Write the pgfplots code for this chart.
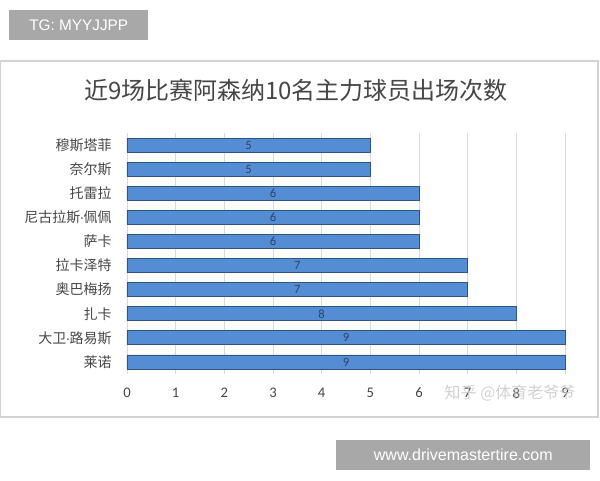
\documentclass[border=0pt]{standalone}
\usepackage{pgfplots}
\pgfplotsset{compat=1.18}
\usepackage{pgfplotstable}
\usepackage{fontspec}
\setmainfont{Noto Sans CJK SC}
\newfontfamily\numfont{Carlito}
\newfontfamily\wmfont{Liberation Sans}
\newcommand{\mdot}{{\wmfont\kern-0.5pt·\kern-0.5pt}}

\definecolor{barBlue}{RGB}{84,141,212}
\definecolor{barEdge}{RGB}{48,84,130}
\definecolor{labelInk}{RGB}{45,68,98}
\definecolor{textInk}{RGB}{70,70,70}
\definecolor{wmGrey}{RGB}{168,168,168}

\pgfplotstableread{
y v
0 9
1 9
2 8
3 7
4 7
5 6
6 6
7 6
8 5
9 5
}\appearances

\begin{document}
\begin{tikzpicture}
\path[fill=white, use as bounding box] (0,0) rectangle (450pt,360pt);

% pixel coordinates, origin top left
\begin{scope}[x=0.75pt, y=-0.75pt, shift={(0,360pt)}]
  \draw[gray!35, line width=0.8pt] (0,61) rectangle (598,417);
  \node[fill=wmGrey, text=white, inner sep=0pt, minimum width=139*0.75pt,
        minimum height=30*0.75pt, anchor=north west, font=\wmfont\fontsize{11.5}{13}\selectfont]
        at (9,10) {TG: MYYJJPP\hspace{12pt}};
  \node[fill=wmGrey, text=white, inner sep=0pt, minimum width=254*0.75pt,
        minimum height=30*0.75pt, anchor=north west, font=\wmfont\fontsize{12}{14}\selectfont]
        at (336,440) {www.drivemastertire.com};
  \node[text=textInk, font=\fontsize{18}{20}\selectfont] at (296,90)
        {近9场比赛阿森纳10名主力球员出场次数};
\end{scope}

\begin{axis}[
    at={(95.25pt,79.5pt)}, anchor=south west,
    scale only axis, width=328.5pt, height=180.75pt,
    xmin=0, xmax=9, ymin=-0.5, ymax=9.5,
    clip=false,
    axis line style={draw=none},
    tick style={draw=none},
    xtick={0,...,9},
    ytick={0,...,9},
    yticklabels={莱诺,大卫\mdot 路易斯,扎卡,奥巴梅扬,拉卡泽特,萨卡,尼古拉斯\mdot 佩佩,托雷拉,奈尔斯,穆斯塔菲},
    xmajorgrids,
    major grid style={gray!30},
    /pgf/number format/assume math mode=true,
    xticklabel style={font=\numfont\fontsize{11}{12}\selectfont, text=textInk, yshift=-7pt},
    yticklabel style={font=\fontsize{10.5}{12}\selectfont, text=textInk, xshift=-8pt},
]
\addplot[xbar, bar width=10.5pt, fill=barBlue, draw=barEdge, line width=0.6pt]
    table[x=v, y=y] {\appearances};
\addplot[draw=none, mark=none, nodes near coords, point meta=explicit,
    nodes near coords align={center},
    every node near coord/.append style={font=\numfont\fontsize{9.5}{10}\selectfont, text=labelInk}]
    table[x expr=\thisrow{v}/2, y=y, meta=v] {\appearances};
\end{axis}

\node[text=gray!45, opacity=0.8, font=\fontsize{12}{14}\selectfont, anchor=west] at (330pt,65pt)
    {知乎 @体育老爷爷};
\end{tikzpicture}
\end{document}
